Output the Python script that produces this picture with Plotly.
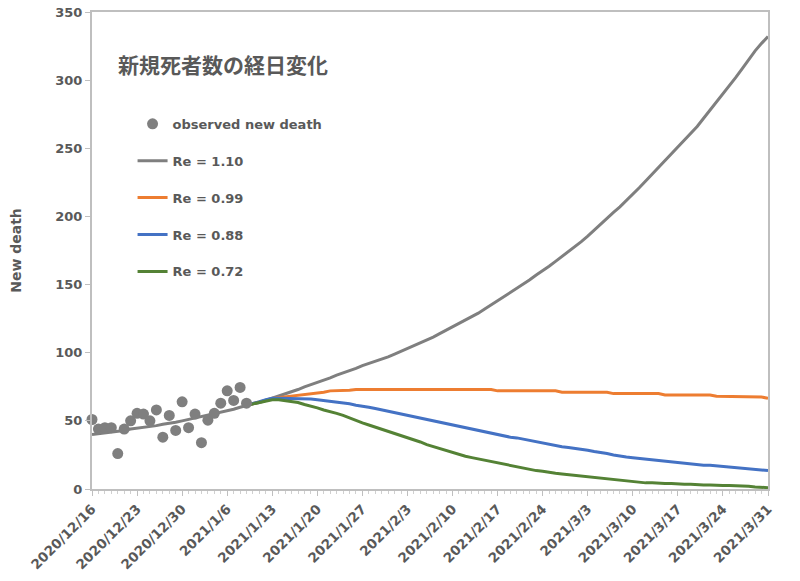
import pandas as pd
import plotly.graph_objects as go

# ---- data ----
observed_start = "2020-12-16"
observed = [51, 44, 45, 45, 26, 44, 50, 55.5, 55, 50, 58, 38, 54, 43, 64, 45,
            55, 34, 50.5, 55.5, 63, 72, 65, 74.5, 63]

fit_start = "2020-12-16"
re_110 = [40, 40.5, 41, 42, 42.5, 43, 44, 44.5, 45.5, 46,
          46.5, 47.5, 48, 49, 50, 51, 52, 53, 54, 55.5,
          56.5, 57.5, 58.5, 60, 61.5, 62.5, 63.5, 65, 66.5, 68,
          69.5, 71, 73, 75, 76.5, 78, 79.5, 81.5, 83.5, 85,
          87, 88.5, 90.5, 92, 93.5, 95.5, 97, 99, 101, 103,
          105, 107, 109, 111.5, 114, 116.5, 119, 121, 123.5, 126,
          129, 132, 135, 138, 141, 144, 147, 150, 153.5, 157,
          160, 163.5, 167, 170.5, 174, 177.5, 181.5, 185.5, 190, 194,
          198.5, 203, 207, 211.5, 216, 221, 226, 231, 235.5, 240.5,
          245.5, 250.5, 255.5, 260.5, 266, 272, 278, 284, 289.5, 296,
          302, 308.5, 315, 321.5, 327, 332]

proj_start = "2021-01-09"
re_099 = [61.5, 62.5, 63.5, 65, 66.5, 67, 67.5, 68, 69, 69.5,
          70, 70.5, 71, 72, 72, 72.5, 72.5, 73, 73, 73,
          73, 73, 73, 73, 73, 73, 73, 73, 73, 73,
          73, 73, 73, 73, 73, 73, 73, 73, 73, 72,
          72, 72, 72, 72, 72, 72, 72, 72, 72, 71,
          71, 71, 71, 71, 71, 71, 71, 70, 70, 70,
          70, 70, 70, 70, 70, 69, 69, 69, 69, 69,
          69, 69, 69, 68, 68, 68, 68, 68, 68, 68,
          67.5, 66.5]
re_088 = [61.5, 62.5, 64, 65.5, 66.5, 66.5, 66.5, 66.5, 66.5, 66,
          66, 65.5, 65, 64.5, 64, 63, 62.5, 61.5, 61, 60,
          59, 58, 57, 56, 55, 54, 53, 52, 51, 50,
          48.5, 47.5, 46.5, 45.5, 44.5, 43.5, 42.5, 41.5, 40.5, 39.5,
          39, 38, 37.5, 36.5, 36, 35, 34, 33, 32, 31,
          30.5, 30, 29, 28.5, 27.5, 27, 26, 25, 24, 23.5,
          23, 22.5, 22, 21, 20.5, 20, 19.5, 19.5, 19, 18.5,
          18, 17.5, 17.5, 17, 17, 16.5, 16, 15.5, 15, 14.5,
          14, 13.5]
re_072 = [61.5, 62.5, 64, 65, 65.5, 65.5, 65, 64.5, 63.5, 62,
          61, 59.5, 58, 57, 55.5, 54, 52, 50, 48.5, 47,
          45.5, 44, 42.5, 41, 39, 37.5, 36, 34.5, 32.5, 31,
          29.5, 28, 27, 25.5, 24, 23, 22, 21, 20, 19,
          18, 17, 16, 15, 14.5, 13.5, 13, 12, 11.5, 11,
          10.5, 10, 9, 8.5, 8, 7.5, 7, 6.5, 6, 5.5,
          5.5, 5, 4.5, 4.5, 4, 4, 4, 3.5, 3.5, 3.5,
          3, 3, 3, 2.5, 2.5, 2.5, 2.5, 2, 2, 1.5,
          1.5, 1]

tick_dates = ["2020-12-16", "2020-12-23", "2020-12-30", "2021-01-06", "2021-01-13",
              "2021-01-20", "2021-01-27", "2021-02-03", "2021-02-10", "2021-02-17",
              "2021-02-24", "2021-03-03", "2021-03-10", "2021-03-17", "2021-03-24",
              "2021-03-31"]
tick_labels = ["2020/12/16", "2020/12/23", "2020/12/30", "2021/1/6", "2021/1/13",
               "2021/1/20", "2021/1/27", "2021/2/3", "2021/2/10", "2021/2/17",
               "2021/2/24", "2021/3/3", "2021/3/10", "2021/3/17", "2021/3/24",
               "2021/3/31"]

series_names = ["Re = 1.10", "Re = 0.99", "Re = 0.88", "Re = 0.72"]
series_colors = ["#7f7f7f", "#ED7D31", "#4472C4", "#548235"]

TXT = "#595959"
FONT = "DejaVu Sans"

def dates(start, n):
    return pd.date_range(start, periods=n, freq="D")

fig = go.Figure()

proj = [(fit_start, re_110), (proj_start, re_099), (proj_start, re_088), (proj_start, re_072)]
for i, ((st, vals), name, col) in enumerate(zip(proj, series_names, series_colors)):
    fig.add_trace(go.Scatter(
        x=dates(st, len(vals)), y=vals, mode="lines", name=name,
        line=dict(color=col, width=3), legendgroup=name, legendrank=i + 2,
    ))

fig.add_trace(go.Scatter(
    x=dates(observed_start, len(observed)), y=observed, mode="markers",
    name="observed new death", marker=dict(color="#7f7f7f", size=11),
    legendgroup="obs", legendrank=1, cliponaxis=False,
))

fig.add_annotation(
    text="新規死者数の経日変化", xref="paper", yref="paper", x=0.036, y=0.891,
    xanchor="left", yanchor="middle", showarrow=False,
    font=dict(family="Noto Sans CJK JP", size=21, color=TXT, weight="bold"),
)

fig.update_layout(
    width=800, height=581,
    margin=dict(l=92, r=32, t=12, b=92),
    paper_bgcolor="white", plot_bgcolor="white",
    font=dict(family=FONT, color=TXT, size=13, weight="bold"),
    showlegend=True,
    legend=dict(x=0.06, y=0.797, xanchor="left", yanchor="top",
                bgcolor="rgba(0,0,0,0)", tracegroupgap=17,
                font=dict(family=FONT, size=13, color=TXT, weight="bold")),
    xaxis=dict(
        type="date", range=["2020-12-16", "2021-03-31"], automargin=False,
        tickvals=tick_dates, ticktext=tick_labels, tickangle=-45,
        ticks="outside", ticklen=5, tickcolor="#bfbfbf", tickwidth=1,
        showline=True, linecolor="#bfbfbf", linewidth=2, mirror=True,
        showgrid=False, zeroline=False,
        tickfont=dict(family=FONT, size=13.5, color=TXT, weight="bold"),
        minor=dict(dtick=86400000, ticks="outside", ticklen=3, tickcolor="#d0d0d0",
                   showgrid=False),
    ),
    yaxis=dict(
        range=[0, 350], dtick=50, ticks="outside", ticklen=5, tickcolor="#bfbfbf",
        showline=True, linecolor="#bfbfbf", linewidth=2, mirror=True,
        showgrid=False, zeroline=False, automargin=False,
        tickfont=dict(family=FONT, size=13, color=TXT, weight="bold"),
        title=dict(text="New death", standoff=30,
                   font=dict(family=FONT, size=14, color=TXT, weight="bold")),
    ),
)

fig.write_html("out.html", config={"displayModeBar": False},
               post_script="document.body.style.margin='0';")
